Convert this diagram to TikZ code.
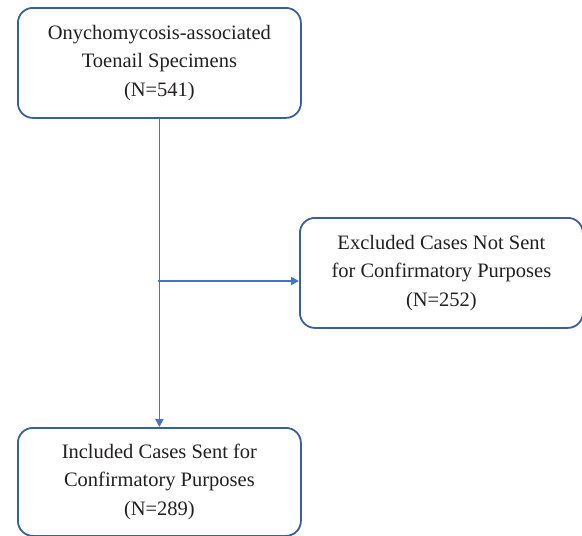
\documentclass[tikz,border=0pt]{standalone}
\usepackage{fontspec}
\setmainfont{Liberation Serif}
\usetikzlibrary{arrows.meta}
\definecolor{boxline}{HTML}{3B5E9E}
\definecolor{arrowline}{HTML}{4472C4}
\definecolor{txt}{HTML}{231F20}
\begin{document}
\begin{tikzpicture}[x=1pt,y=-1pt,
  flowbox/.style={draw=boxline, line width=1.8pt, rounded corners=15pt, minimum width=283pt, minimum height=110pt, align=center, text=txt, font=\fontsize{20.5}{28.5}\selectfont, inner sep=0pt},
  conn/.style={draw=arrowline, line width=1.8pt},
  tip/.style={-{Triangle[length=8pt,width=8pt]}}]
\useasboundingbox (0,0) rectangle (582,536);
\node[flowbox, anchor=north west] (top) at (17,7) {Onychomycosis-associated\\Toenail Specimens\\(N=541)};
\node[flowbox, anchor=north west] (excl) at (299,217) {Excluded Cases Not Sent\\for Confirmatory Purposes\\(N=252)};
\node[flowbox, anchor=north west, minimum height=108pt] (incl) at (17,427) {Included Cases Sent for\\Confirmatory Purposes\\(N=289)};
\coordinate (branch) at (158,281);
\draw[conn, tip] (top.south) -- (incl.north);
\draw[conn, tip] (branch) -- (branch -| excl.west);
\end{tikzpicture}
\end{document}
